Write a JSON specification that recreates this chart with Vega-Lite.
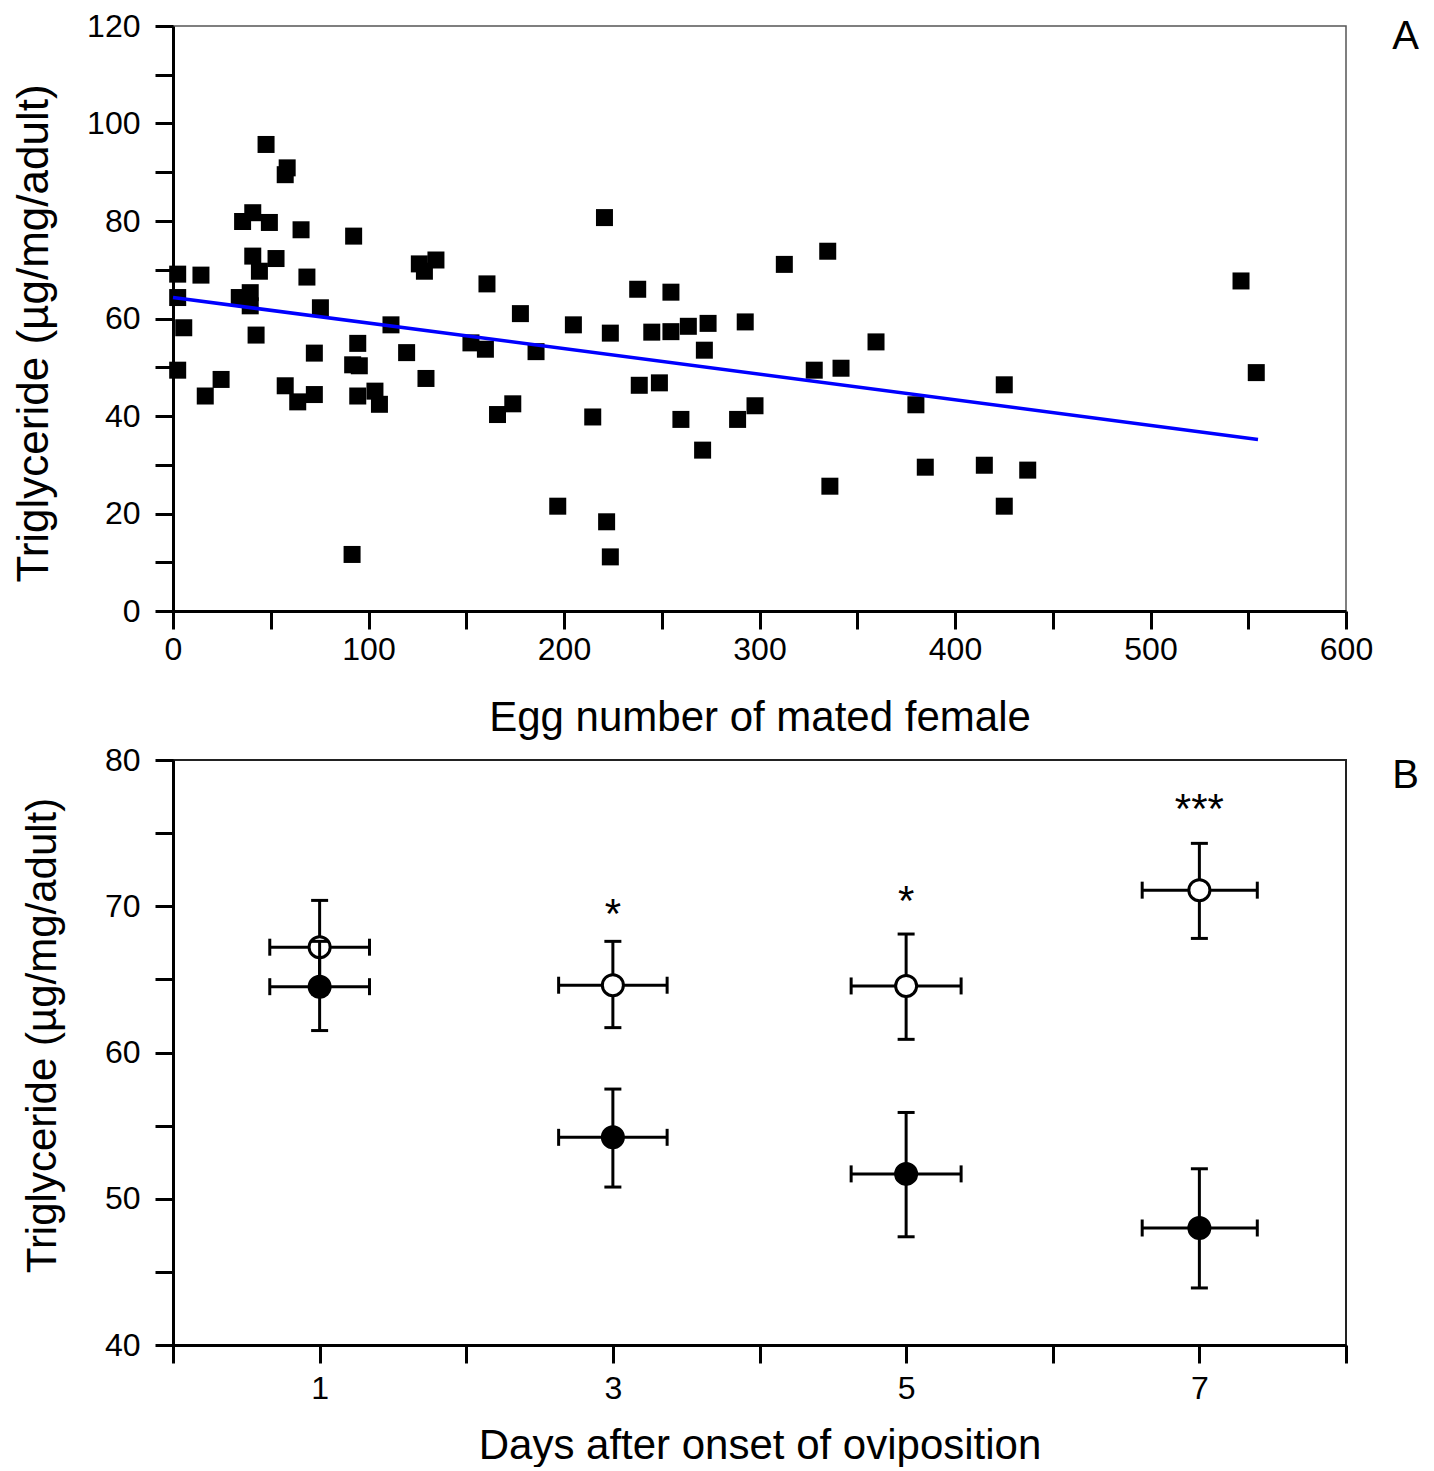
{
  "$schema": "https://vega.github.io/schema/vega-lite/v6.json",
  "padding": {"left": 11, "top": 9, "right": 5, "bottom": 0},
  "spacing": 4,
  "config": {
    "font": "Liberation Sans",
    "view": {"stroke": "#555", "strokeWidth": 1.5},
    "axis": {"domainColor": "#000", "domainWidth": 3, "tickColor": "#000", "tickWidth": 3, "tickSize": 18, "labelColor": "#000", "titleColor": "#000", "grid": false, "labelFont": "Liberation Sans", "titleFont": "Liberation Sans", "titleFontWeight": "normal", "labelFontSize": 32, "titleFontSize": 42, "labelOverlap": false, "labelFlush": false, "zindex": 1},
    "title": {"font": "Liberation Sans", "fontWeight": "normal", "fontSize": 40, "color": "#000"}
  },
  "datasets": {
    "eggs": [
      {"eggs": 47.6, "tg": 95.7}, {"eggs": 58.4, "tg": 90.9}, {"eggs": 57.4, "tg": 89.5}, {"eggs": 35.6, "tg": 79.9}, {"eggs": 40.8, "tg": 81.7},
      {"eggs": 49.3, "tg": 79.7}, {"eggs": 65.5, "tg": 78.2}, {"eggs": 92.4, "tg": 76.9}, {"eggs": 40.8, "tg": 72.8}, {"eggs": 52.7, "tg": 72.3},
      {"eggs": 44.2, "tg": 69.7}, {"eggs": 2.4, "tg": 69.1}, {"eggs": 14.3, "tg": 68.9}, {"eggs": 68.5, "tg": 68.5}, {"eggs": 126, "tg": 71.2},
      {"eggs": 134.5, "tg": 72}, {"eggs": 128.6, "tg": 69.7}, {"eggs": 160.6, "tg": 67.1}, {"eggs": 2.4, "tg": 64.3}, {"eggs": 33.9, "tg": 64.3},
      {"eggs": 39.5, "tg": 65.3}, {"eggs": 39.5, "tg": 62.6}, {"eggs": 75.4, "tg": 62.2}, {"eggs": 5.5, "tg": 58.1}, {"eggs": 111.5, "tg": 58.7},
      {"eggs": 42.5, "tg": 56.6}, {"eggs": 94.5, "tg": 54.9}, {"eggs": 152.4, "tg": 55.0}, {"eggs": 159.8, "tg": 53.7}, {"eggs": 72.3, "tg": 52.9},
      {"eggs": 119.5, "tg": 53.0}, {"eggs": 2.4, "tg": 49.4}, {"eggs": 91.9, "tg": 50.5}, {"eggs": 95.3, "tg": 50.3}, {"eggs": 24.6, "tg": 47.5},
      {"eggs": 16.5, "tg": 44.1}, {"eggs": 129.4, "tg": 47.7}, {"eggs": 57.4, "tg": 46.2}, {"eggs": 63.8, "tg": 42.9}, {"eggs": 72.3, "tg": 44.4},
      {"eggs": 94.5, "tg": 44.1}, {"eggs": 103.3, "tg": 45.1}, {"eggs": 105.6, "tg": 42.4}, {"eggs": 166, "tg": 40.3}, {"eggs": 91.6, "tg": 11.6},
      {"eggs": 220.7, "tg": 80.7}, {"eggs": 312.7, "tg": 71.1}, {"eggs": 334.9, "tg": 73.8}, {"eggs": 237.7, "tg": 66.0}, {"eggs": 254.7, "tg": 65.4},
      {"eggs": 177.7, "tg": 61.0}, {"eggs": 204.8, "tg": 58.7}, {"eggs": 223.7, "tg": 57.0}, {"eggs": 244.9, "tg": 57.2}, {"eggs": 254.7, "tg": 57.3},
      {"eggs": 263.6, "tg": 58.4}, {"eggs": 273.7, "tg": 59.0}, {"eggs": 292.7, "tg": 59.3}, {"eggs": 359.6, "tg": 55.2}, {"eggs": 185.7, "tg": 53.2},
      {"eggs": 271.8, "tg": 53.5}, {"eggs": 328, "tg": 49.4}, {"eggs": 341.7, "tg": 49.8}, {"eggs": 238.5, "tg": 46.3}, {"eggs": 248.8, "tg": 46.8},
      {"eggs": 173.8, "tg": 42.5}, {"eggs": 214.7, "tg": 39.8}, {"eggs": 259.8, "tg": 39.3}, {"eggs": 288.8, "tg": 39.3}, {"eggs": 297.7, "tg": 42.1},
      {"eggs": 270.9, "tg": 33.0}, {"eggs": 336, "tg": 25.6}, {"eggs": 196.8, "tg": 21.5}, {"eggs": 221.8, "tg": 18.3}, {"eggs": 223.7, "tg": 11.1},
      {"eggs": 546.3, "tg": 67.7}, {"eggs": 554.1, "tg": 48.9}, {"eggs": 425.2, "tg": 46.4}, {"eggs": 380, "tg": 42.3}, {"eggs": 384.8, "tg": 29.5},
      {"eggs": 415, "tg": 29.9}, {"eggs": 437.2, "tg": 28.9}, {"eggs": 425.2, "tg": 21.5}
    ],
    "fit": [{"eggs": 0, "tg": 64.3}, {"eggs": 555, "tg": 35.2}],
    "bdata": [
      {"day": 1, "grp": "open", "m": 67.2, "lo": 64.0, "hi": 70.4, "dlo": 0.66, "dhi": 1.34},
      {"day": 1, "grp": "filled", "m": 64.5, "lo": 61.5, "hi": 67.6, "dlo": 0.66, "dhi": 1.34},
      {"day": 3, "grp": "open", "m": 64.6, "lo": 61.7, "hi": 67.6, "dlo": 2.63, "dhi": 3.37},
      {"day": 3, "grp": "filled", "m": 54.2, "lo": 50.8, "hi": 57.5, "dlo": 2.63, "dhi": 3.37},
      {"day": 5, "grp": "open", "m": 64.55, "lo": 60.9, "hi": 68.1, "dlo": 4.625, "dhi": 5.375},
      {"day": 5, "grp": "filled", "m": 51.7, "lo": 47.4, "hi": 55.9, "dlo": 4.625, "dhi": 5.375},
      {"day": 7, "grp": "open", "m": 71.1, "lo": 67.8, "hi": 74.3, "dlo": 6.61, "dhi": 7.395},
      {"day": 7, "grp": "filled", "m": 48.0, "lo": 43.9, "hi": 52.05, "dlo": 6.61, "dhi": 7.395}
    ],
    "stars": [
      {"day": 3, "y": 70.0, "t": "*"},
      {"day": 5, "y": 70.9, "t": "*"},
      {"day": 7, "y": 77.2, "t": "***"}
    ]
  },
  "vconcat": [
    {
      "width": 1173,
      "height": 585,
      "title": {"text": "A", "orient": "top", "anchor": "end", "frame": "group", "baseline": "alphabetic", "offset": -79, "dx": 73},
      "layer": [
        {
          "data": {"name": "eggs"},
          "mark": {"type": "point", "shape": "square", "filled": true, "size": 289, "color": "#000", "opacity": 1},
          "encoding": {
            "x": {"field": "eggs", "type": "quantitative", "scale": {"domain": [0, 600], "nice": false},
              "axis": {"title": "Egg number of mated female", "values": [0, 50, 100, 150, 200, 250, 300, 350, 400, 450, 500, 550, 600], "format": "d",
                "labelExpr": "datum.value % 100 === 0 ? datum.label : ''", "labelPadding": 5, "titlePadding": 32,
                "encode": {"ticks": {"update": {"y2": {"signal": "datum.value % 100 === 0 ? 18 : 9"}}}}}},
            "y": {"field": "tg", "type": "quantitative", "scale": {"domain": [0, 120], "nice": false},
              "axis": {"title": "Triglyceride (µg/mg/adult)", "values": [0, 10, 20, 30, 40, 50, 60, 70, 80, 90, 100, 110, 120], "format": "d",
                "labelExpr": "datum.value % 20 === 0 ? datum.label : ''", "labelPadding": 15, "titlePadding": 30, "titleFontSize": 44, "titleY": 307,
                "encode": {"ticks": {"update": {"x2": {"signal": "datum.value % 20 === 0 ? -18 : -9"}}}}}}
          }
        },
        {
          "data": {"name": "fit"},
          "mark": {"type": "line", "color": "#0000ff", "strokeWidth": 3.5},
          "encoding": {
            "x": {"field": "eggs", "type": "quantitative", "scale": {"domain": [0, 600], "nice": false}},
            "y": {"field": "tg", "type": "quantitative", "scale": {"domain": [0, 120], "nice": false}}
          }
        }
      ]
    },
    {
      "width": 1173,
      "height": 585,
      "view": {"stroke": "#222", "strokeWidth": 2},
      "title": {"text": "B", "orient": "top", "anchor": "end", "frame": "group", "baseline": "alphabetic", "offset": -84, "dx": 73},
      "layer": [
        {
          "data": {"name": "bdata"},
          "transform": [{"filter": "datum.grp === 'open'"}],
          "mark": {"type": "rule", "color": "#000", "strokeWidth": 3},
          "encoding": {
            "x": {"field": "day", "type": "quantitative", "scale": {"domain": [0, 8], "nice": false, "zero": false},
              "axis": {"title": "Days after onset of oviposition", "values": [0, 1, 2, 3, 4, 5, 6, 7, 8], "format": "d",
                "labelExpr": "datum.value % 2 === 1 ? datum.label : ''", "labelPadding": 10, "titlePadding": 21,
                "encode": {"ticks": {"update": {"y2": {"signal": "datum.value % 2 === 1 ? 18 : 9"}}}}}},
            "y": {"field": "lo", "type": "quantitative", "scale": {"domain": [40, 80], "nice": false, "zero": false},
              "axis": {"title": "Triglyceride (µg/mg/adult)", "values": [40, 45, 50, 55, 60, 65, 70, 75, 80], "format": "d",
                "labelExpr": "datum.value % 10 === 0 ? datum.label : ''", "labelPadding": 15, "titlePadding": 40, "titleY": 275,
                "encode": {"ticks": {"update": {"x2": {"signal": "datum.value % 10 === 0 ? -18 : -9"}}}}}},
            "y2": {"field": "hi"}
          }
        },
        {
          "data": {"name": "bdata"},
          "transform": [{"filter": "datum.grp === 'open'"}],
          "mark": {"type": "rule", "color": "#000", "strokeWidth": 3},
          "encoding": {
            "x": {"field": "dlo", "type": "quantitative", "scale": {"domain": [0, 8], "nice": false, "zero": false}},
            "x2": {"field": "dhi"},
            "y": {"field": "m", "type": "quantitative", "scale": {"domain": [40, 80], "nice": false, "zero": false}}
          }
        },
        {
          "data": {"name": "bdata"},
          "transform": [{"filter": "datum.grp === 'open'"}, {"fold": ["lo", "hi"], "as": ["k", "yv"]}],
          "mark": {"type": "tick", "orient": "horizontal", "color": "#000", "size": 17, "thickness": 3, "opacity": 1},
          "encoding": {
            "x": {"field": "day", "type": "quantitative", "scale": {"domain": [0, 8], "nice": false, "zero": false}},
            "y": {"field": "yv", "type": "quantitative", "scale": {"domain": [40, 80], "nice": false, "zero": false}}
          }
        },
        {
          "data": {"name": "bdata"},
          "transform": [{"filter": "datum.grp === 'open'"}, {"fold": ["dlo", "dhi"], "as": ["k", "xv"]}],
          "mark": {"type": "tick", "orient": "vertical", "color": "#000", "size": 17, "thickness": 3, "opacity": 1},
          "encoding": {
            "x": {"field": "xv", "type": "quantitative", "scale": {"domain": [0, 8], "nice": false, "zero": false}},
            "y": {"field": "m", "type": "quantitative", "scale": {"domain": [40, 80], "nice": false, "zero": false}}
          }
        },
        {
          "data": {"name": "bdata"},
          "transform": [{"filter": "datum.grp === 'open'"}],
          "mark": {"type": "point", "shape": "circle", "filled": true, "size": 441, "fill": "#fff", "stroke": "#000", "strokeWidth": 3, "opacity": 1},
          "encoding": {
            "x": {"field": "day", "type": "quantitative", "scale": {"domain": [0, 8], "nice": false, "zero": false}},
            "y": {"field": "m", "type": "quantitative", "scale": {"domain": [40, 80], "nice": false, "zero": false}}
          }
        },
        {
          "data": {"name": "bdata"},
          "transform": [{"filter": "datum.grp === 'filled'"}],
          "mark": {"type": "rule", "color": "#000", "strokeWidth": 3},
          "encoding": {
            "x": {"field": "day", "type": "quantitative", "scale": {"domain": [0, 8], "nice": false, "zero": false}},
            "y": {"field": "lo", "type": "quantitative", "scale": {"domain": [40, 80], "nice": false, "zero": false}},
            "y2": {"field": "hi"}
          }
        },
        {
          "data": {"name": "bdata"},
          "transform": [{"filter": "datum.grp === 'filled'"}],
          "mark": {"type": "rule", "color": "#000", "strokeWidth": 3},
          "encoding": {
            "x": {"field": "dlo", "type": "quantitative", "scale": {"domain": [0, 8], "nice": false, "zero": false}},
            "x2": {"field": "dhi"},
            "y": {"field": "m", "type": "quantitative", "scale": {"domain": [40, 80], "nice": false, "zero": false}}
          }
        },
        {
          "data": {"name": "bdata"},
          "transform": [{"filter": "datum.grp === 'filled'"}, {"fold": ["lo", "hi"], "as": ["k", "yv"]}],
          "mark": {"type": "tick", "orient": "horizontal", "color": "#000", "size": 17, "thickness": 3, "opacity": 1},
          "encoding": {
            "x": {"field": "day", "type": "quantitative", "scale": {"domain": [0, 8], "nice": false, "zero": false}},
            "y": {"field": "yv", "type": "quantitative", "scale": {"domain": [40, 80], "nice": false, "zero": false}}
          }
        },
        {
          "data": {"name": "bdata"},
          "transform": [{"filter": "datum.grp === 'filled'"}, {"fold": ["dlo", "dhi"], "as": ["k", "xv"]}],
          "mark": {"type": "tick", "orient": "vertical", "color": "#000", "size": 17, "thickness": 3, "opacity": 1},
          "encoding": {
            "x": {"field": "xv", "type": "quantitative", "scale": {"domain": [0, 8], "nice": false, "zero": false}},
            "y": {"field": "m", "type": "quantitative", "scale": {"domain": [40, 80], "nice": false, "zero": false}}
          }
        },
        {
          "data": {"name": "bdata"},
          "transform": [{"filter": "datum.grp === 'filled'"}],
          "mark": {"type": "point", "shape": "circle", "filled": true, "size": 441, "fill": "#000", "stroke": "#000", "strokeWidth": 3, "opacity": 1},
          "encoding": {
            "x": {"field": "day", "type": "quantitative", "scale": {"domain": [0, 8], "nice": false, "zero": false}},
            "y": {"field": "m", "type": "quantitative", "scale": {"domain": [40, 80], "nice": false, "zero": false}}
          }
        },
        {
          "data": {"name": "stars"},
          "mark": {"type": "text", "fontSize": 42, "baseline": "middle", "align": "center", "dy": 9, "color": "#000", "font": "Liberation Sans"},
          "encoding": {
            "x": {"field": "day", "type": "quantitative", "scale": {"domain": [0, 8], "nice": false, "zero": false}},
            "y": {"field": "y", "type": "quantitative", "scale": {"domain": [40, 80], "nice": false, "zero": false}},
            "text": {"field": "t"}
          }
        }
      ]
    }
  ]
}
